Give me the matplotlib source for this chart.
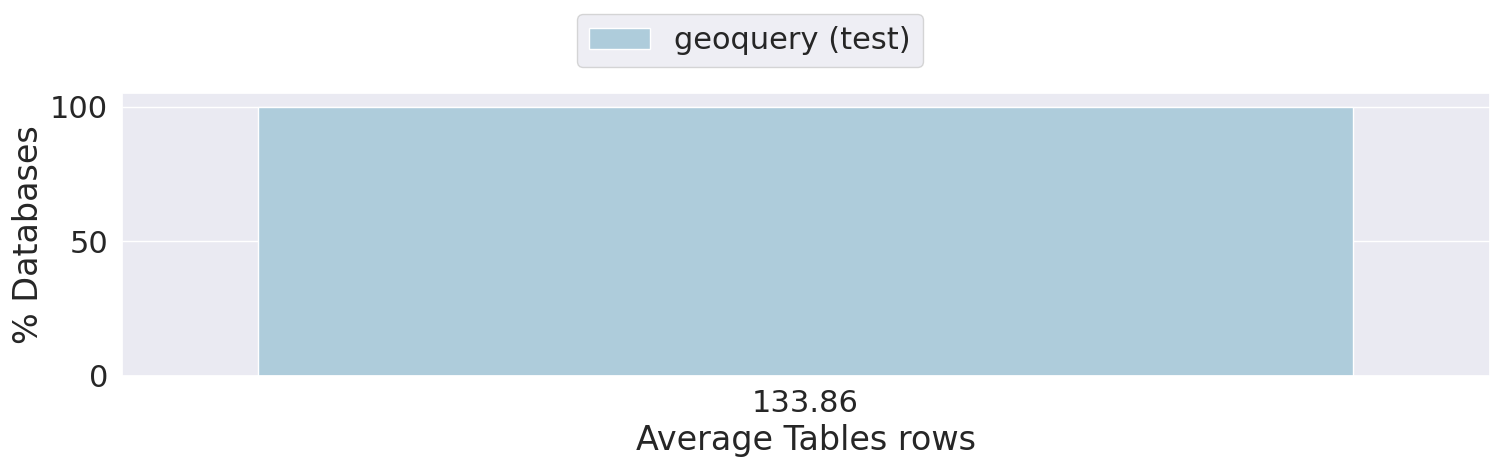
import matplotlib
matplotlib.use("Agg")
import matplotlib.pyplot as plt
import seaborn as sns
import pandas as pd

categories = ["133.86"]
percent_dbs = [100.0]
series_name = "geoquery (test)"

sns.set_theme(style="darkgrid", font_scale=2)

df = pd.DataFrame({"avg_rows": categories, "pct": percent_dbs, "dataset": [series_name] * len(categories)})

fig, ax = plt.subplots(figsize=(15, 4.68), dpi=100)
sns.barplot(data=df, x="avg_rows", y="pct", hue="dataset", palette="Paired", ax=ax)

ax.set_xlabel("Average Tables rows")
ax.set_ylabel("% Databases")
ax.set_yticks([0, 50, 100])

handles, labels = ax.get_legend_handles_labels()
ax.get_legend().remove()
fig.legend(handles, labels, loc="upper center", bbox_to_anchor=(0.5, 1.003), ncol=1)

fig.subplots_adjust(left=0.081, right=0.993, top=0.801, bottom=0.197)
fig.savefig("out.png", dpi=100)
plt.close()
